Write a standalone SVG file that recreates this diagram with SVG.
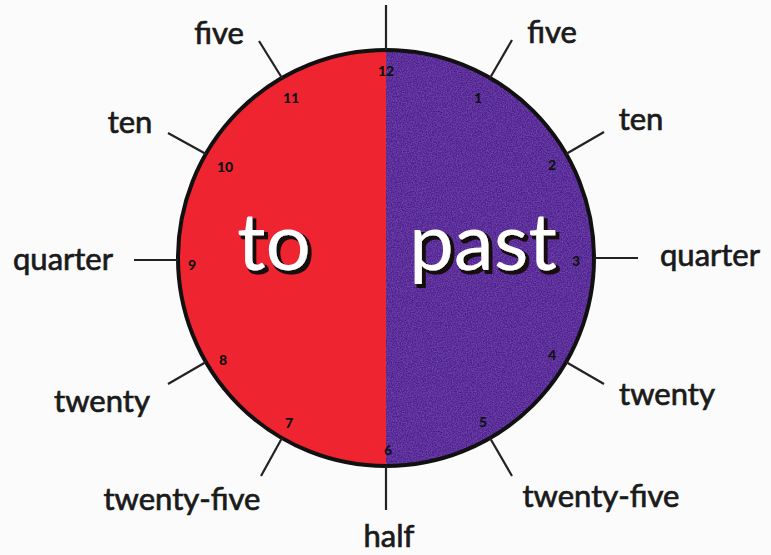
<svg xmlns="http://www.w3.org/2000/svg" width="771" height="555" viewBox="0 0 771 555">
<style>
.lbl{font-family:Lato,"Open Sans","Liberation Sans",sans-serif;font-size:31px;fill:#1a1a1a;stroke:#1a1a1a;stroke-width:0.7;text-anchor:middle}
.num{font-family:Lato,"Liberation Sans",sans-serif;font-size:14px;font-weight:900;fill:#111;text-anchor:middle}
.tick{stroke:#222;stroke-width:2.2;fill:none}
.big{font-family:Lato,"Open Sans","Liberation Sans",sans-serif;font-size:80px;text-anchor:middle;fill:#fff;filter:url(#shadow)}
</style>
<defs>
<clipPath id="face"><circle cx="386" cy="258" r="208"/></clipPath>
<filter id="grain" x="0" y="0" width="100%" height="100%">
<feTurbulence type="fractalNoise" baseFrequency="0.8" numOctaves="2" seed="3" result="n"/>
<feColorMatrix in="n" type="matrix" values="0 0 0 0 0.9  0 0 0 0 0.4  0 0 0 0 0.9  0 0 0 0.25 -0.08" result="w"/>
<feComposite in="w" in2="SourceGraphic" operator="in" result="m"/>
<feMerge><feMergeNode in="SourceGraphic"/><feMergeNode in="m"/></feMerge>
</filter>
<filter id="shadow" x="-10%" y="-10%" width="130%" height="130%">
<feMorphology in="SourceAlpha" operator="dilate" radius="1" result="d"/>
<feOffset in="d" dx="3" dy="3" result="o"/>
<feFlood flood-color="#150810"/>
<feComposite in2="o" operator="in" result="s"/>
<feMerge><feMergeNode in="s"/><feMergeNode in="SourceGraphic"/></feMerge>
</filter>
</defs>
<rect width="771" height="555" fill="#fbfbfb"/>
<g id="clock">
<g clip-path="url(#face)">
<rect x="170" y="40" width="216" height="440" fill="#ee2430"/>
<rect x="386" y="40" width="220" height="440" fill="#4e2494" filter="url(#grain)"/>
</g>
<circle cx="386" cy="258" r="208" fill="none" stroke="#111" stroke-width="4"/>
<g id="numbers">
<text class="num" x="386" y="76">12</text>
<text class="num" x="478" y="103">1</text>
<text class="num" x="552" y="170">2</text>
<text class="num" x="576" y="266">3</text>
<text class="num" x="552" y="360">4</text>
<text class="num" x="483" y="427">5</text>
<text class="num" x="388" y="455">6</text>
<text class="num" x="289" y="428">7</text>
<text class="num" x="223" y="365">8</text>
<text class="num" x="192" y="270">9</text>
<text class="num" x="225" y="172">10</text>
<text class="num" x="291" y="103">11</text>
</g>
<g id="to"><text class="big" x="274" y="270">to</text></g>
<g id="past"><text class="big" x="483" y="270">past</text></g>
</g>
<g id="connectors">
<line class="tick" x1="386" y1="50" x2="386" y2="5"/>
<line class="tick" x1="490" y1="78" x2="512" y2="40"/>
<line class="tick" x1="566" y1="154" x2="604" y2="132"/>
<line class="tick" x1="594" y1="258" x2="638" y2="258"/>
<line class="tick" x1="566" y1="362" x2="604" y2="384"/>
<line class="tick" x1="490" y1="438" x2="512" y2="476"/>
<line class="tick" x1="386" y1="466" x2="386" y2="510"/>
<line class="tick" x1="282" y1="438" x2="261" y2="476"/>
<line class="tick" x1="206" y1="362" x2="168" y2="384"/>
<line class="tick" x1="178" y1="260" x2="134" y2="260"/>
<line class="tick" x1="206" y1="154" x2="168" y2="133"/>
<line class="tick" x1="282" y1="78" x2="259" y2="41"/>
</g>
<g id="label-five-to"><text class="lbl" x="219" y="44">five</text></g>
<g id="label-five-past"><text class="lbl" x="552" y="43">five</text></g>
<g id="label-ten-to"><text class="lbl" x="130" y="133">ten</text></g>
<g id="label-ten-past"><text class="lbl" x="641" y="130">ten</text></g>
<g id="label-quarter-to"><text class="lbl" x="63" y="270">quarter</text></g>
<g id="label-quarter-past"><text class="lbl" x="710" y="266">quarter</text></g>
<g id="label-twenty-to"><text class="lbl" x="102" y="412">twenty</text></g>
<g id="label-twenty-past"><text class="lbl" x="667" y="405">twenty</text></g>
<g id="label-twentyfive-to"><text class="lbl" x="182" y="510">twenty-five</text></g>
<g id="label-twentyfive-past"><text class="lbl" x="601" y="507">twenty-five</text></g>
<g id="label-half"><text class="lbl" x="389" y="547">half</text></g>
</svg>
